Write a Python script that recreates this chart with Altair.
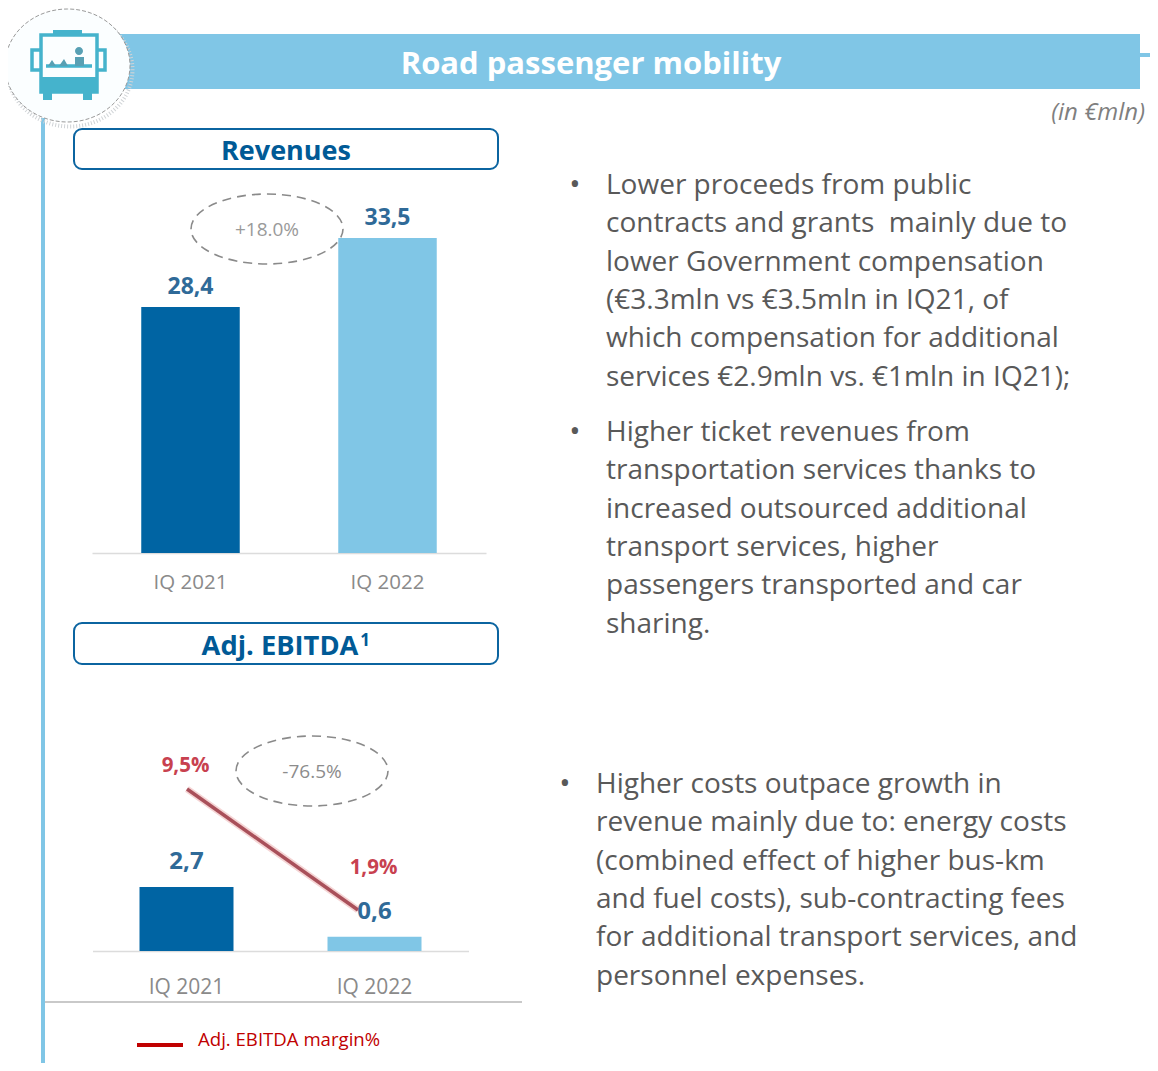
import altair as alt

# ---- chart values ----
quarters = ["IQ 2021", "IQ 2022"]
revenues = [28.4, 33.5]
revenue_labels = ["28,4", "33,5"]
ebitda = [2.7, 0.6]
ebitda_labels = ["2,7", "0,6"]
margin = [9.5, 1.9]
margin_labels = ["9,5%", "1,9%"]
bar_colors = ["#0064a3", "#80c6e6"]
revenue_axis_floor = 10.2

# ---- slide text ----
title = "Road passenger mobility"
unit = "(in €mln)"
para1 = ["Lower proceeds from public", "contracts and grants\u00a0 mainly due to", "lower Government compensation",
         "(€3.3mln vs €3.5mln in IQ21, of", "which compensation for additional", "services €2.9mln vs. €1mln in IQ21);"]
para2 = ["Higher ticket revenues from", "transportation services thanks to", "increased outsourced additional",
         "transport services, higher", "passengers transported and car", "sharing."]
para3 = ["Higher costs outpace growth in", "revenue mainly due to: energy costs", "(combined effect of higher bus-km",
         "and fuel costs), sub-contracting fees", "for additional transport services, and", "personnel expenses."]

FONT = "Open Sans"
OFF = 8
W = 1142
H = 1055
LIGHT = "#80c6e6"
NAVY = "#005a96"
blank = {"values": [{}]}


def rect(x1, y1, x2, y2, **kw):
    return alt.Chart(blank).mark_rect(**kw).encode(
        x=alt.value(x1 - OFF), x2=alt.value(x2 - OFF), y=alt.value(y1 - OFF), y2=alt.value(y2 - OFF))


def txt(text, x, y, **kw):
    kw.setdefault("font", FONT)
    kw.setdefault("align", "left")
    kw.setdefault("baseline", "middle")
    return alt.Chart(blank).mark_text(text=text, x=x - OFF, y=y - OFF, **kw)


def shape(path, x, y, size=4, **kw):
    return alt.Chart(blank).mark_point(shape=path, size=size, opacity=1, **kw).encode(
        x=alt.value(x - OFF), y=alt.value(y - OFF))


ELL = "M-1,0 A1,0.46 0 1,1 1,0 A1,0.46 0 1,1 -1,0 Z"
CIRC = "M-1,0 A1,0.904 0 1,1 1,0 A1,0.904 0 1,1 -1,0 Z"

BUS_LINES = ("M-27,-29 H29 V28 H-27 Z M-27,-14 H-36 V6 H-27 M29,-14 H37 V6 H29 "
             "M-22,2 H24")
BUS_FILL = ("M-15,-34 H14 V-29 H-15 Z M-27,13 H29 V28 H-27 Z M-25,28 H-16 V36 H-25 Z M15,28 H24 V36 H15 Z")
BUS_SCENE = ("M-20,2 L-16,-4 L-12,2 Z M-9,2 L-4,-5 L0,2 Z M7,-7 H16 V2 H7 Z "
             "M15,-13 A4,4 0 1,1 7,-13 A4,4 0 1,1 15,-13 Z")

layers = [
    rect(41, 118, 45, 1080, fill=LIGHT),
    rect(100, 34, 1140, 89, fill=LIGHT),
    rect(1140, 53, 1166, 57, fill=LIGHT),
    shape(CIRC, 70, 70, size=15625, filled=False, stroke="#cfd3d6", strokeWidth=4, strokeDash=[1, 2]),
    shape(CIRC, 67.5, 65.5, size=15625, filled=True, fill="#fbfeff", stroke="#9a9a9a", strokeWidth=1, strokeDash=[4, 2]),
    shape(BUS_LINES, 68, 64, filled=False, stroke="#45b3cc", strokeWidth=3.5),
    shape(BUS_FILL, 68, 64, filled=True, fill="#45b3cc", strokeWidth=0),
    shape(BUS_SCENE, 68, 64, filled=True, fill="#58a0b4", strokeWidth=0),
    txt(title, 591, 65, fontSize=31, fontWeight="bold", color="white", align="center"),
    txt(unit, 1145, 113, fontSize=24, fontStyle="italic", color="#7f7f7f", align="right"),
    rect(74, 129, 498, 169, fill="white", stroke="#0b64a0", strokeWidth=2, cornerRadius=8),
    rect(74, 623, 498, 664, fill="white", stroke="#0b64a0", strokeWidth=2, cornerRadius=8),
    txt("Revenues", 286, 152, fontSize=27, fontWeight="bold", color=NAVY, align="center"),
    txt("Adj. EBITDA", 280, 647, fontSize=27.3, fontWeight="bold", color=NAVY, align="center"),
    txt("1", 365, 641, fontSize=17, fontWeight="bold", color=NAVY, align="center"),
    shape(ELL, 267, 229, size=23104, filled=False, stroke="#8a8a8a", strokeWidth=1.6, strokeDash=[9, 6]),
    shape(ELL, 312, 771, size=23104, filled=False, stroke="#8a8a8a", strokeWidth=1.6, strokeDash=[9, 6]),
    txt("+18.0%", 267, 230, fontSize=19, color="#9a9a9a", align="center"),
    txt("-76.5%", 312, 772, fontSize=19, color="#8c8c8c", align="center"),
]

# ---- revenues panel ----
rev_data = alt.Data(values=[
    {"q": q, "v": v, "l": l, "c": c, "base": revenue_axis_floor}
    for q, v, l, c in zip(quarters, revenues, revenue_labels, bar_colors)])
rev_x = alt.Scale(type="band", domain=quarters, range=[92 - OFF, 486 - OFF], paddingInner=0.5, paddingOuter=0.25)
rev_y = alt.Scale(domain=[revenue_axis_floor, revenues[1]], range=[553 - OFF, 238 - OFF], zero=False, nice=False)
axis_common = dict(title=None, ticks=False, grid=False, domainColor="#dcdcdc", domainWidth=1.5,
                   labelColor="#8a8a8a", labelFont=FONT, labelAngle=0, orient="bottom",
                   labelBaseline="middle")
layers += [
    alt.Chart(rev_data).mark_bar().encode(
        x=alt.X("q:N", scale=rev_x, sort=quarters,
                axis=alt.Axis(offset=553 - OFF - H, labelPadding=29, labelFontSize=20.5, **axis_common)),
        y=alt.Y("v:Q", scale=rev_y, axis=None), y2="base:Q",
        color=alt.Color("c:N", scale=None, legend=None)),
    alt.Chart(rev_data).mark_text(font=FONT, fontWeight="bold", fontSize=23, color="#2f6a98", dy=-20,
                                  baseline="middle").encode(
        x=alt.X("q:N", scale=rev_x, sort=quarters, axis=None),
        y=alt.Y("v:Q", scale=rev_y, axis=None), text="l:N"),
]

# ---- EBITDA panel ----
eb_data = alt.Data(values=[
    {"q": q, "v": v, "l": l, "c": c, "m": m, "ml": ml}
    for q, v, l, c, m, ml in zip(quarters, ebitda, ebitda_labels, bar_colors, margin, margin_labels)])
eb_x = alt.Scale(type="band", domain=quarters, range=[92.5 - OFF, 468.5 - OFF], paddingInner=0.5, paddingOuter=0.25)
eb_y = alt.Scale(domain=[0, ebitda[0]], range=[951 - OFF, 887 - OFF], nice=False)
line_x = alt.Scale(type="point", domain=quarters, range=[187 - OFF, 358 - OFF], padding=0)
line_y = alt.Scale(domain=[margin[1], margin[0]], range=[910 - OFF, 789 - OFF], zero=False, nice=False)
mlabel_y = alt.Scale(domain=[margin[1], margin[0]], range=[868 - OFF, 766 - OFF], zero=False, nice=False)
layers += [
    alt.Chart(eb_data).mark_bar().encode(
        x=alt.X("q:N", scale=eb_x, sort=quarters,
                axis=alt.Axis(offset=951 - OFF - H, labelPadding=36, labelFontSize=21, **axis_common)),
        y=alt.Y("v:Q", scale=eb_y, axis=None),
        color=alt.Color("c:N", scale=None, legend=None)),
    alt.Chart(eb_data).mark_line(color="#f5d5d5", strokeWidth=7).encode(
        x=alt.X("q:N", scale=line_x, sort=quarters, axis=None),
        y=alt.Y("m:Q", scale=line_y, axis=None)),
    alt.Chart(eb_data).mark_line(color="#a9505a", strokeWidth=3.5).encode(
        x=alt.X("q:N", scale=line_x, sort=quarters, axis=None),
        y=alt.Y("m:Q", scale=line_y, axis=None)),
    alt.Chart(eb_data).mark_text(font=FONT, fontWeight="bold", fontSize=24, color="#2f6a98", dy=-25,
                                 baseline="middle").encode(
        x=alt.X("q:N", scale=eb_x, sort=quarters, axis=None),
        y=alt.Y("v:Q", scale=eb_y, axis=None), text="l:N"),
    alt.Chart(eb_data).mark_text(font=FONT, fontWeight="bold", fontSize=20.5, color="#c8414f",
                                 baseline="middle", dx=-1).encode(
        x=alt.X("q:N", scale=eb_x, sort=quarters, axis=None),
        y=alt.Y("m:Q", scale=mlabel_y, axis=None), text="ml:N"),
    rect(45, 1001, 522, 1003, fill="#c9c9c9"),
    rect(137, 1043, 183, 1047, fill="#c00000"),
    txt("Adj. EBITDA margin%", 198, 1040, fontSize=18.6, color="#c00000"),
]

# ---- commentary ----
BODY = dict(fontSize=28, color="#595959", lineHeight=38.3)
BULLET = dict(fontSize=30, color="#595959", align="center")
layers += [
    txt("•", 575, 185, **BULLET),
    txt(para1, 606, 186, **BODY),
    txt("•", 575, 432, **BULLET),
    txt(para2, 606, 433, **BODY),
    txt("•", 565, 784, **BULLET),
    txt(para3, 596, 785, **BODY),
]

chart = alt.layer(*layers).resolve_scale(x="independent", y="independent", color="independent").properties(
    width=W, height=H, padding=0, autosize=alt.AutoSizeParams(type="none"), background="white"
).configure_view(stroke=None)

chart.save("out.html", embed_options={"renderer": "svg", "actions": False})
